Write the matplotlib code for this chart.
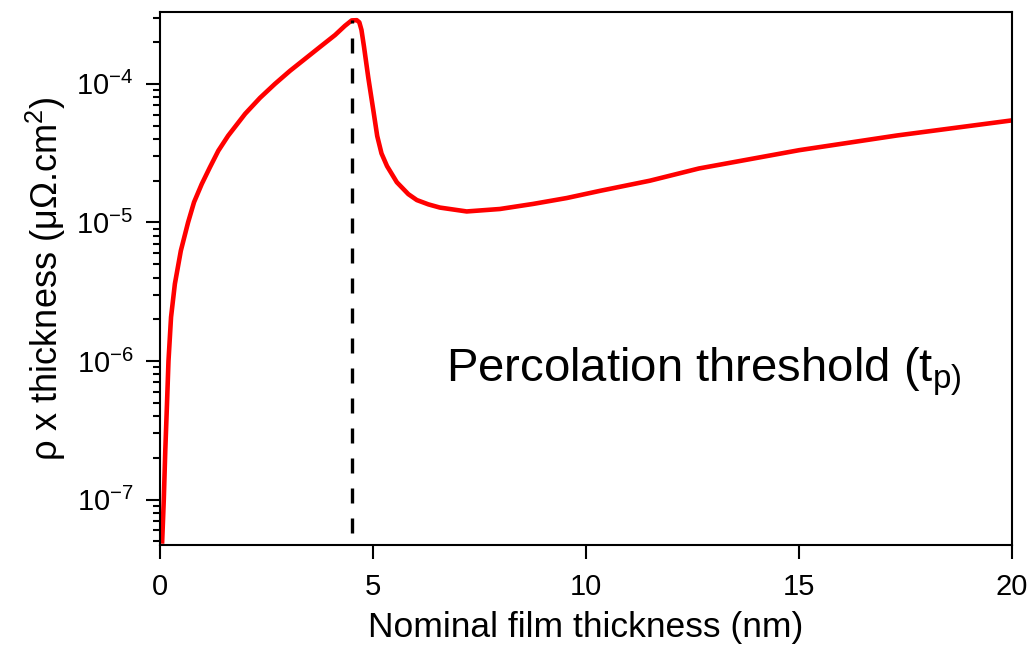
import matplotlib
matplotlib.use("Agg")
import matplotlib.pyplot as plt
from matplotlib.ticker import LogLocator, NullFormatter, FixedLocator

plt.rcParams['font.family'] = ['Liberation Sans', 'DejaVu Sans']
plt.rcParams['mathtext.fontset'] = 'custom'
plt.rcParams['mathtext.rm'] = 'Liberation Sans'
plt.rcParams['mathtext.it'] = 'Liberation Sans:italic'
plt.rcParams['mathtext.default'] = 'regular'
plt.rcParams['axes.unicode_minus'] = False

# values
thickness_nm = [0.05, 0.09, 0.125, 0.165, 0.2, 0.26, 0.35, 0.49, 0.66, 0.8,
                0.98, 1.17, 1.37, 1.6, 2.0, 2.35, 2.7, 3.05, 3.4, 3.76,
                4.11, 4.34, 4.5, 4.62, 4.68, 4.73, 4.79, 4.89, 5.01, 5.1,
                5.2, 5.33, 5.56, 5.83, 6.03, 6.3, 6.57, 7.2, 7.98, 8.76,
                9.55, 10.33, 11.5, 12.65, 15.0, 17.3, 20.0]
rho_t = [4.8e-8, 1.0e-7, 2.26e-7, 4.9e-7, 1.0e-6, 2.07e-6, 3.6e-6, 6.25e-6, 1.0e-5, 1.4e-5,
         1.89e-5, 2.49e-5, 3.29e-5, 4.22e-5, 6.08e-5, 7.93e-5, 1.0e-4, 1.24e-4, 1.51e-4, 1.85e-4,
         2.25e-4, 2.62e-4, 2.87e-4, 2.88e-4, 2.78e-4, 2.45e-4, 1.85e-4, 1.11e-4, 6.4e-5, 4.2e-5,
         3.15e-5, 2.55e-5, 1.95e-5, 1.6e-5, 1.45e-5, 1.35e-5, 1.28e-5, 1.2e-5, 1.25e-5, 1.36e-5,
         1.5e-5, 1.69e-5, 2.0e-5, 2.45e-5, 3.32e-5, 4.24e-5, 5.45e-5]
t_p = 4.5
peak_val = 2.88e-4
x_ticks = [0, 5, 10, 15, 20]

fig = plt.figure(figsize=(10.3, 6.52), dpi=100)
ax = fig.add_axes([0.1553, 0.1641, 0.8272, 0.8175])

ax.plot(thickness_nm, rho_t, color='#ff0000', lw=3.3,
        solid_joinstyle='round', solid_capstyle='butt')
ax.vlines(t_p, 1e-9, peak_val, colors='black', lw=2.4, linestyles=(0, (4.5, 4.5)))

ax.set_yscale('log')
ax.set_xlim(0, 20)
ax.set_ylim(4.7e-8, 3.3e-4)

ax.xaxis.set_major_locator(FixedLocator(x_ticks))
ax.set_xticklabels([str(v) for v in x_ticks])
ax.yaxis.set_major_locator(LogLocator(base=10, numticks=20))
ax.yaxis.set_minor_locator(LogLocator(base=10, subs=range(2, 10), numticks=20))
ax.yaxis.set_minor_formatter(NullFormatter())

for s in ax.spines.values():
    s.set_linewidth(1.5)
ax.tick_params(which='major', direction='out', length=10, width=1.5, labelsize=21)
ax.tick_params(axis='x', which='major', pad=10)
ax.tick_params(axis='y', which='major', pad=9)
ax.tick_params(which='minor', direction='out', length=5, width=1.5)
ax.tick_params(top=False, right=False)

ax.set_xlabel('Nominal film thickness (nm)', fontsize=25.5, labelpad=7)
ax.set_ylabel(r'ρ x thickness (μΩ.cm$^{2}$)', fontsize=26, labelpad=6)

ax.text(0.336, 0.325, r'Percolation threshold (t$_{p)}$', transform=ax.transAxes,
        fontsize=34, ha='left', va='center')

fig.savefig('out.png', dpi=100)
